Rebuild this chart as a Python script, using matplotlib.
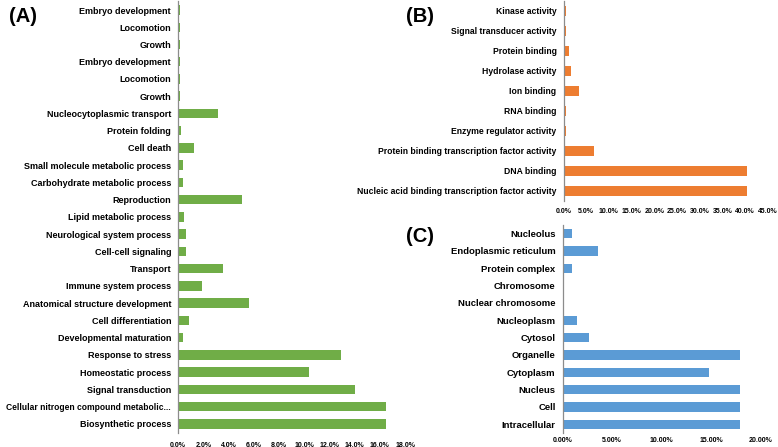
import matplotlib
matplotlib.use("Agg")
import matplotlib.pyplot as plt
import numpy as np

plt.rcParams["font.family"] = ["Liberation Sans", "DejaVu Sans"]
plt.rcParams["font.weight"] = "bold"

# (A) biological process, top to bottom
bp_labels = [
    "Embryo development", "Locomotion", "Growth", "Embryo development",
    "Locomotion", "Growth", "Nucleocytoplasmic transport", "Protein folding",
    "Cell death", "Small molecule metabolic process",
    "Carbohydrate metabolic process", "Reproduction", "Lipid metabolic process",
    "Neurological system process", "Cell-cell signaling", "Transport",
    "Immune system process", "Anatomical structure development",
    "Cell differentiation", "Developmental maturation", "Response to stress",
    "Homeostatic process", "Signal transduction",
    "Cellular nitrogen compound metabolic...", "Biosynthetic process",
]
bp_values = [0.12, 0.12, 0.12, 0.12, 0.12, 0.12, 3.2, 0.2, 1.3, 0.37, 0.37,
             5.1, 0.5, 0.6, 0.6, 3.6, 1.9, 5.6, 0.85, 0.4, 12.9, 10.4, 14.0,
             16.5, 16.5]
bp_ticks = [0, 2, 4, 6, 8, 10, 12, 14, 16, 18]

# (B) molecular function
mf_labels = [
    "Kinase activity", "Signal transducer activity", "Protein binding",
    "Hydrolase activity", "Ion binding", "RNA binding",
    "Enzyme regulator activity",
    "Protein binding transcription factor activity", "DNA binding",
    "Nucleic acid binding transcription factor activity",
]
mf_values = [0.5, 0.5, 1.2, 1.7, 3.4, 0.5, 0.5, 6.7, 40.5, 40.5]
mf_ticks = [0, 5, 10, 15, 20, 25, 30, 35, 40, 45]

# (C) cellular component
cc_labels = [
    "Nucleolus", "Endoplasmic reticulum", "Protein complex", "Chromosome",
    "Nuclear chromosome", "Nucleoplasm", "Cytosol", "Organelle", "Cytoplasm",
    "Nucleus", "Cell", "Intracellular",
]
cc_values = [1.0, 3.6, 0.95, 0.2, 0.2, 1.45, 2.7, 17.9, 14.8, 17.9, 17.9, 17.9]
cc_ticks = [0, 5, 10, 15, 20]

W, H = 778, 447
fig = plt.figure(figsize=(W / 100, H / 100), dpi=100)


def px_axes(left, right, top, bottom):
    return fig.add_axes([left / W, 1 - bottom / H, (right - left) / W, (bottom - top) / H])


def panel(ax, labels, values, ticks, fmt, color, height, fs, xpad=5,
          family=("Liberation Sans", "DejaVu Sans")):
    y = np.arange(len(labels))
    ax.barh(y, values, height=height, color=color, edgecolor="none")
    ax.set_ylim(len(labels) - 0.5, -0.5)
    ax.set_xlim(ticks[0], ticks[-1])
    ax.set_yticks(y)
    ax.set_yticklabels(labels, fontsize=fs, fontweight="bold", family=list(family))
    ax.set_xticks(ticks)
    ax.set_xticklabels([fmt.format(t) for t in ticks], fontsize=5, fontweight="bold")
    ax.tick_params(axis="both", length=0)
    ax.tick_params(axis="y", pad=5)
    ax.tick_params(axis="x", pad=xpad)
    for s in ("top", "right", "bottom"):
        ax.spines[s].set_visible(False)
    ax.spines["left"].set_color("#8c8c8c")
    ax.spines["left"].set_linewidth(0.9)
    ax.set_facecolor("none")


ax_a = px_axes(178, 405, 1.4, 432.5)
panel(ax_a, bp_labels, bp_values, bp_ticks, "{:.1f}%", "#70ad47", 0.55, 6.5, xpad=6.5)
ax_a.get_yticklabels()[23].set_fontsize(6.15)

ax_b = px_axes(563.5, 767.7, 1, 201)
panel(ax_b, mf_labels, mf_values, mf_ticks, "{:.1f}%", "#ed7d31", 0.47, 6.2,
      family=("Liberation Sans Narrow", "Liberation Sans"))

ax_c = px_axes(562.5, 760.7, 225, 433)
panel(ax_c, cc_labels, cc_values, cc_ticks, "{:.2f}%", "#5b9bd5", 0.52, 6.8, xpad=3)

for lab, x, y in [("(A)", 23, 17), ("(B)", 420, 17), ("(C)", 420, 237)]:
    fig.text(x / W, 1 - y / H, lab, fontsize=14.5, fontweight="bold",
             ha="center", va="center")

fig.savefig("out.png", dpi=100)
